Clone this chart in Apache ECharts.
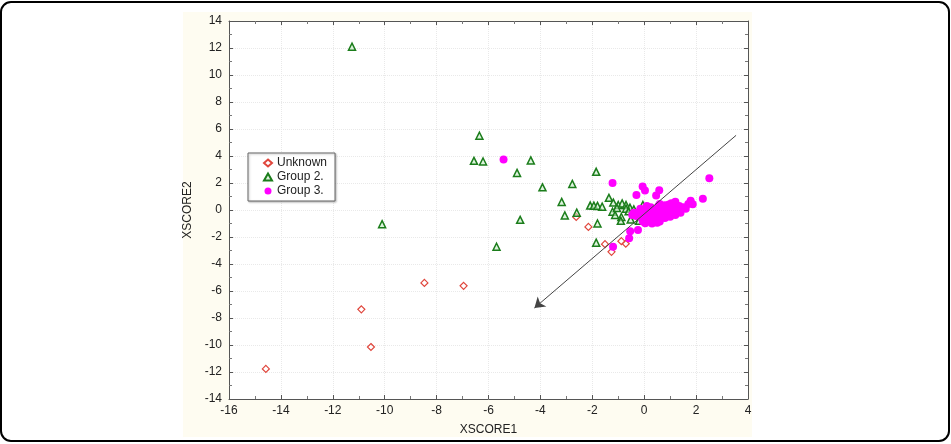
<!DOCTYPE html>
<html>
<head>
<meta charset="utf-8">
<script src="https://cdn.jsdelivr.net/npm/echarts@6/dist/echarts.min.js"></script>
<style>
html,body{margin:0;padding:0;background:#fff;}
#chart{width:951px;height:444px;}
</style>
</head>
<body>
<div id="chart"></div>
<script>
// ---- data ----
const xTicks = [-16,-14,-12,-10,-8,-6,-4,-2,0,2,4];
const yTicks = [-14,-12,-10,-8,-6,-4,-2,0,2,4,6,8,10,12,14];
const seriesNames = ['Unknown','Group 2.','Group 3.'];

const unknownPts = [
  [-14.58,-11.77],[-10.9,-7.36],[-10.53,-10.15],[-8.47,-5.4],[-6.96,-5.62],
  [-2.62,-0.52],[-2.15,-1.25],[-1.51,-2.53],[-1.26,-3.1],[-0.88,-2.31],
  [-0.71,-2.5],[0.42,-0.87],[0.1,-0.6]
];

const group2Pts = [
  [-11.26,12.1],[-10.1,-1.05],[-6.35,5.5],[-6.56,3.64],[-6.21,3.59],[-4.37,3.67],
  [-4.9,2.75],[-3.92,1.68],[-4.78,-0.73],[-5.69,-2.72],[-2.77,1.93],[-3.18,0.6],
  [-3.06,-0.4],[-2.6,-0.2],[-1.85,2.83],[-2.08,0.33],[-1.94,0.32],[-1.8,0.3],
  [-1.62,0.25],[-1.36,0.9],[-1.19,0.55],[-1.0,0.37],[-0.85,0.49],[-0.7,0.37],
  [-0.55,0.17],[-1.22,-0.13],[-1.12,-0.37],[-0.88,-0.52],[-0.9,-0.8],[-0.52,-0.7],
  [-1.8,-1.0],[-1.85,-2.42],[-0.3,-0.37],[-0.05,0.37],[-0.7,0.1],[-0.4,0.05],
  [-0.2,-0.8],[-1.05,0.15],[-0.6,-0.1]
];

const group3Pts = [
  [-5.42,3.74],[-1.22,2.0],[-0.06,1.74],[0.03,1.44],[-0.3,1.12],[0.46,1.07],
  [0.58,1.46],[2.51,2.35],[2.26,0.84],[1.79,0.69],[1.87,0.42],[1.51,0.2],
  [1.2,0.62],[1.2,-0.37],[-0.54,-1.58],[-0.24,-1.49],[-0.58,-2.1],[-1.2,-2.72],
  [0.04,-0.99],[-0.46,-0.37],[-0.4,-0.2],[-0.3,-0.45],[-0.2,-0.15],[-0.1,-0.6],
  [0.0,-0.3],[0.05,0.05],[0.15,-0.5],[0.2,-0.15],[0.25,0.2],[0.3,-0.7],
  [0.35,-0.35],[0.4,0.0],[0.45,-0.55],[0.5,-0.2],[0.55,0.3],[0.6,-0.85],
  [0.65,-0.45],[0.7,-0.1],[0.75,0.15],[0.8,-0.6],[0.85,-0.3],[0.9,0.05],
  [0.95,0.4],[1.0,-0.5],[1.05,-0.15],[1.1,0.2],[1.15,-0.3],[1.3,0.0],
  [1.35,0.3],[1.4,-0.2],[1.6,0.1],[1.05,0.5],[0.6,0.45],[0.1,0.3],
  [-0.15,0.1],[0.3,-1.0],[0.5,-0.95],[0.8,0.35],[1.7,0.45],[-0.05,-0.85]
];

const arrowStart = [3.54,5.53];
const arrowEnd = [-4.23,-7.26];

// ---- chart ----
const FONT = '"Liberation Sans", Arial, sans-serif';
const chart = echarts.init(document.getElementById('chart'), null, {renderer:'canvas'});

function baseAxis(ticks){
  return {
    min: ticks[0], max: ticks[ticks.length-1], interval: ticks[1]-ticks[0],
    axisLine:{show:true, onZero:false, lineStyle:{color:'#555', width:1}},
    axisTick:{show:true, inside:true, length:4, lineStyle:{color:'#555'}},
    minorTick:{show:true, splitNumber:2, length:3, lineStyle:{color:'#777'}}
  };
}

const option = {
  animation:false,
  backgroundColor:'#ffffff',
  textStyle:{fontFamily:FONT},
  graphic:[
    {type:'rect', z:-10, shape:{x:183,y:12,width:569,height:425}, style:{fill:'#fefcf1'}},
    {type:'rect', z:100, shape:{x:1,y:2,width:948,height:439,r:10}, style:{fill:'none', stroke:'#000', lineWidth:2}}
  ],
  grid:{left:229, right:203, top:21, bottom:45, show:true, backgroundColor:'#fff', borderWidth:0},
  legend:{
    show:true, orient:'vertical', left:248, top:153,
    data:seriesNames,
    itemWidth:8, itemHeight:7, itemGap:0,
    padding:[3,8,3,15],
    borderColor:'#666', borderWidth:1, backgroundColor:'#fff',
    shadowColor:'rgba(0,0,0,0.25)', shadowBlur:2, shadowOffsetX:1, shadowOffsetY:1,
    textStyle:{fontFamily:FONT, fontSize:12, color:'#222', lineHeight:14}
  },
  xAxis:[
    Object.assign(baseAxis(xTicks), {
      type:'value', position:'bottom',
      name:'XSCORE1', nameLocation:'middle', nameGap:25,
      nameTextStyle:{fontFamily:FONT, fontSize:12, color:'#222'},
      axisLabel:{show:true, margin:6, fontFamily:FONT, fontSize:12, color:'#222'},
      splitLine:{show:true, lineStyle:{color:'#e9e9e9', type:'dotted'}}
    }),
    Object.assign(baseAxis(xTicks), {
      type:'value', position:'top', axisLabel:{show:false}, splitLine:{show:false}
    })
  ],
  yAxis:[
    Object.assign(baseAxis(yTicks), {
      type:'value', position:'left',
      name:'XSCORE2', nameLocation:'middle', nameGap:33,
      nameTextStyle:{fontFamily:FONT, fontSize:12, color:'#222'},
      axisLabel:{show:true, margin:7, fontFamily:FONT, fontSize:12, color:'#222'},
      splitLine:{show:true, lineStyle:{color:'#e9e9e9', type:'dotted'}}
    }),
    Object.assign(baseAxis(yTicks), {
      type:'value', position:'right', axisLabel:{show:false}, splitLine:{show:false}
    })
  ],
  series:[
    {
      name:'Unknown', type:'scatter', xAxisIndex:0, yAxisIndex:0,
      data:unknownPts, symbol:'diamond', symbolSize:7,
      itemStyle:{color:'rgba(255,255,255,0)', borderColor:'#e0463c', borderWidth:1.2, opacity:1}
    },
    {
      name:'Group 2.', type:'scatter', xAxisIndex:0, yAxisIndex:0,
      data:group2Pts, symbol:'triangle', symbolSize:7,
      itemStyle:{color:'rgba(200,235,200,0.6)', borderColor:'#1b7d1b', borderWidth:1.5, opacity:1}
    },
    {
      name:'Group 3.', type:'scatter', xAxisIndex:0, yAxisIndex:0,
      data:group3Pts, symbol:'circle', symbolSize:8,
      itemStyle:{color:'#ff00ff', opacity:1},
      markLine:{
        silent:true, animation:false,
        symbol:['none','arrow'], symbolSize:10,
        label:{show:false},
        lineStyle:{color:'#444', width:1, type:'solid'},
        data:[[{coord:arrowStart},{coord:arrowEnd}]]
      }
    }
  ]
};
chart.setOption(option);
</script>
</body>
</html>
